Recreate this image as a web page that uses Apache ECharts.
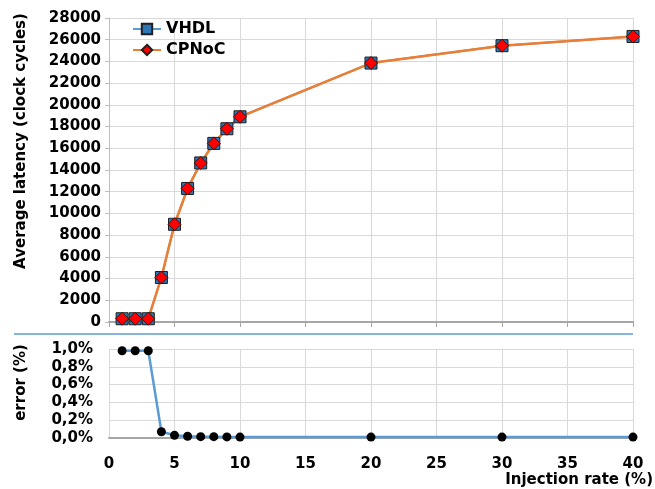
<!DOCTYPE html>
<html>
<head>
<meta charset="utf-8">
<script src="https://cdn.jsdelivr.net/npm/echarts@6/dist/echarts.min.js"></script>
<style>
  html, body { margin: 0; padding: 0; background: #fff; }
  #chart { width: 655px; height: 489px; }
</style>
</head>
<body>
<div id="chart"></div>
<script>
// injection rate (%)
var rates = [1, 2, 3, 4, 5, 6, 7, 8, 9, 10, 20, 30, 40]
// average latency (clock cycles)
var vhdl = [300, 300, 300, 4100, 9000, 12300, 14650, 16450, 17800, 18900, 23850, 25450, 26300]
var cpnoc = [300, 300, 300, 4100, 9000, 12300, 14650, 16450, 17800, 18900, 23850, 25450, 26300]
// error, as a fraction
var error = [0.0098, 0.0098, 0.0098, 0.0007, 0.0003, 0.0002, 0.00015, 0.00015, 0.00012, 0.0001, 0.0001, 0.0001, 0.0001]

function pairs(xs, ys) {
  return xs.map(function (x, i) { return [x, ys[i]] })
}

var font = 'DejaVu Sans'
var tickText = { color: '#000', fontFamily: font, fontWeight: 'bold', fontSize: 15 }
var gridLine = { show: true, lineStyle: { color: '#d9d9d9', width: 1 } }

var chart = echarts.init(document.getElementById('chart'))
chart.setOption({
  animation: false,
  grid: [
    { left: 109, right: 22, top: 18, height: 304 },
    { left: 109, right: 22, top: 349, height: 89 }
  ],
  legend: {
    left: 127,
    top: 16,
    orient: 'vertical',
    itemWidth: 28,
    itemHeight: 13,
    itemGap: 5,
    textStyle: { color: '#000', fontFamily: font, fontWeight: 'bold', fontSize: 16 },
    data: ['VHDL', 'CPNoC']
  },
  xAxis: [
    {
      gridIndex: 0, type: 'value', min: 0, max: 40, interval: 5,
      axisLine: { show: true, lineStyle: { color: '#a6a6a6', width: 2 } },
      axisTick: { show: true, length: 5, lineStyle: { color: '#a6a6a6' } },
      axisLabel: { show: false },
      splitLine: gridLine
    },
    {
      gridIndex: 1, type: 'value', min: 0, max: 40, interval: 5,
      name: 'Injection rate (%)',
      nameLocation: 'end',
      nameGap: 0,
      nameTextStyle: { color: '#000', fontFamily: font, fontWeight: 'bold', fontSize: 15, align: 'right', verticalAlign: 'top', padding: [35, -20, 0, 0] },
      axisLine: { show: true, lineStyle: { color: '#a6a6a6', width: 2 } },
      axisTick: { show: false },
      axisLabel: Object.assign({ margin: 19 }, tickText),
      splitLine: gridLine
    }
  ],
  yAxis: [
    {
      gridIndex: 0, type: 'value', min: 0, max: 28000, interval: 2000,
      name: 'Average latency (clock cycles)',
      nameLocation: 'middle',
      nameGap: 80,
      nameTextStyle: { color: '#000', fontFamily: font, fontWeight: 'bold', fontSize: 15, padding: [0, 0, 0, 58] },
      axisLine: { show: true, lineStyle: { color: '#bfbfbf', width: 1 } },
      axisTick: { show: true, length: 4, lineStyle: { color: '#bfbfbf' } },
      axisLabel: Object.assign({ margin: 8, formatter: function (v) { return String(v) } }, tickText),
      splitLine: gridLine
    },
    {
      gridIndex: 1, type: 'value', min: 0, max: 0.01, interval: 0.002,
      name: 'error (%)',
      nameLocation: 'middle',
      nameGap: 80,
      nameTextStyle: { color: '#000', fontFamily: font, fontWeight: 'bold', fontSize: 15, padding: [0, 0, 0, 22] },
      axisLine: { show: false },
      axisTick: { show: false },
      axisLabel: Object.assign({
        margin: 16,
        formatter: function (v) { return (v * 100).toFixed(1).replace('.', ',') + '%' }
      }, tickText),
      splitLine: gridLine
    }
  ],
  graphic: [
    { type: 'line', shape: { x1: 14, y1: 334, x2: 633, y2: 334 }, style: { stroke: '#5b9bd5', lineWidth: 1.5 } }
  ],
  series: [
    {
      name: 'VHDL', type: 'line', xAxisIndex: 0, yAxisIndex: 0,
      data: pairs(rates, vhdl),
      symbol: 'rect', symbolSize: 12,
      lineStyle: { color: '#5b9bd5', width: 2 },
      itemStyle: { color: '#2e75b6', borderColor: '#1f1f1f', borderWidth: 1 }
    },
    {
      name: 'CPNoC', type: 'line', xAxisIndex: 0, yAxisIndex: 0,
      data: pairs(rates, cpnoc),
      symbol: 'diamond', symbolSize: 13,
      lineStyle: { color: '#ed7d31', width: 2.5 },
      itemStyle: { color: '#ff0000', borderColor: '#1f1f1f', borderWidth: 1 }
    },
    {
      name: 'error', type: 'line', xAxisIndex: 1, yAxisIndex: 1,
      data: pairs(rates, error),
      symbol: 'circle', symbolSize: 9,
      lineStyle: { color: '#5b9bd5', width: 2.5 },
      itemStyle: { color: '#000' }
    }
  ]
})
</script>
</body>
</html>
